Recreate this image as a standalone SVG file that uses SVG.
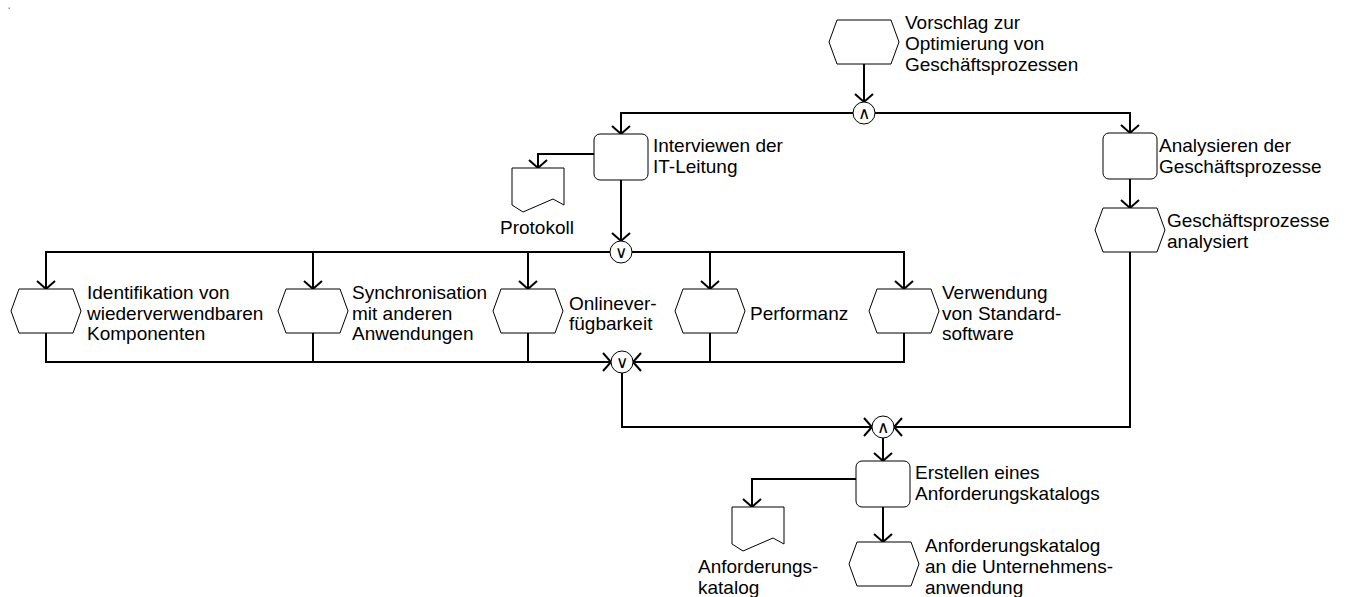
<svg xmlns="http://www.w3.org/2000/svg" width="1353" height="597" viewBox="0 0 1353 597">
<style>
.s{fill:#fff;stroke:#000;stroke-width:1}
.c{fill:none;stroke:#000;stroke-width:2}
.t{font-family:"Liberation Sans",Arial,sans-serif;font-size:19px;fill:#000}
.op{font-family:"DejaVu Sans ExtraLight","DejaVu Sans",sans-serif;font-weight:200;font-size:17px;fill:#000;text-anchor:middle}
</style>
<defs>
<marker id="a" viewBox="-10 -10 20 20" refX="0" refY="0" markerWidth="20" markerHeight="20" markerUnits="userSpaceOnUse" orient="auto">
<path d="M-8,-9 L0,0 L-8,9" fill="none" stroke="#000" stroke-width="2"/>
</marker>
</defs>
<rect x="8.5" y="7.5" width="1.5" height="1.5" fill="#999"/>
<g id="connectors">
<path class="c" d="M864,64 V102" marker-end="url(#a)"/>
<path class="c" d="M853,113 H621 V134" marker-end="url(#a)"/>
<path class="c" d="M875,113 H1130 V133" marker-end="url(#a)"/>
<path class="c" d="M1130,179 V208" marker-end="url(#a)"/>
<path class="c" d="M594,154 H538 V168" marker-end="url(#a)"/>
<path class="c" d="M621,180 V241" marker-end="url(#a)"/>
<path class="c" d="M610,252 H46 V289" marker-end="url(#a)"/>
<path class="c" d="M313,252 V289" marker-end="url(#a)"/>
<path class="c" d="M528,252 V289" marker-end="url(#a)"/>
<path class="c" d="M632,252 H904 V289" marker-end="url(#a)"/>
<path class="c" d="M710,252 V289" marker-end="url(#a)"/>
<path class="c" d="M46,333 V362 H611" marker-end="url(#a)"/>
<path class="c" d="M313,333 V362"/>
<path class="c" d="M528,333 V362"/>
<path class="c" d="M904,333 V362 H633" marker-end="url(#a)"/>
<path class="c" d="M710,333 V362"/>
<path class="c" d="M622,373 V427 H872" marker-end="url(#a)"/>
<path class="c" d="M1130,252 V427 H894" marker-end="url(#a)"/>
<path class="c" d="M883,438 V461" marker-end="url(#a)"/>
<path class="c" d="M856,479 H752 V507" marker-end="url(#a)"/>
<path class="c" d="M883,507 V542" marker-end="url(#a)"/>
</g>
<g id="op1"><circle class="s" cx="864" cy="113" r="11"/><text class="op" x="864" y="119">∧</text></g>
<g id="op2"><circle class="s" cx="621" cy="252" r="11"/><text class="op" x="621" y="258">∨</text></g>
<g id="op3"><circle class="s" cx="622" cy="362" r="11"/><text class="op" x="622" y="368">∨</text></g>
<g id="op4"><circle class="s" cx="883" cy="427" r="11"/><text class="op" x="883" y="433">∧</text></g>
<g id="ev-vorschlag">
<polygon class="s" points="829,42 837,20 891,20 899,42 891,64 837,64"/>
<text class="t" x="905" y="28.5">Vorschlag zur</text>
<text class="t" x="905" y="49.5">Optimierung von</text>
<text class="t" x="905" y="70.5">Geschäftsprozessen</text>
</g>
<g id="fn-interviewen">
<rect class="s" x="594" y="134" width="54" height="46" rx="6"/>
<text class="t" x="653" y="151.5">Interviewen der</text>
<text class="t" x="653" y="172.5">IT-Leitung</text>
</g>
<g id="fn-analysieren">
<rect class="s" x="1103" y="133" width="54" height="46" rx="6"/>
<text class="t" x="1159" y="151.5">Analysieren der</text>
<text class="t" x="1159" y="172.5">Geschäftsprozesse</text>
</g>
<g id="ev-analysiert">
<polygon class="s" points="1095,230 1103,208 1157,208 1165,230 1157,252 1103,252"/>
<text class="t" x="1167" y="226.5">Geschäftsprozesse</text>
<text class="t" x="1167" y="247.5">analysiert</text>
</g>
<g id="doc-protokoll">
<path class="s" d="M512,168 H564 V205 L553,199 L523,212 L512,205 Z"/>
<text class="t" x="500" y="233.5">Protokoll</text>
</g>
<g id="ev-identifikation">
<polygon class="s" points="11,311 19,289 73,289 81,311 73,333 19,333"/>
<text class="t" x="87" y="299">Identifikation von</text>
<text class="t" x="87" y="319.5">wiederverwendbaren</text>
<text class="t" x="87" y="340">Komponenten</text>
</g>
<g id="ev-synchronisation">
<polygon class="s" points="278,311 286,289 340,289 348,311 340,333 286,333"/>
<text class="t" x="352" y="299">Synchronisation</text>
<text class="t" x="352" y="319.5">mit anderen</text>
<text class="t" x="352" y="340">Anwendungen</text>
</g>
<g id="ev-online">
<polygon class="s" points="493,311 501,289 555,289 563,311 555,333 501,333"/>
<text class="t" x="569" y="309.5">Onlinever-</text>
<text class="t" x="569" y="330">fügbarkeit</text>
</g>
<g id="ev-performanz">
<polygon class="s" points="675,311 683,289 737,289 745,311 737,333 683,333"/>
<text class="t" x="750" y="319.5">Performanz</text>
</g>
<g id="ev-verwendung">
<polygon class="s" points="869,311 877,289 931,289 939,311 931,333 877,333"/>
<text class="t" x="942" y="299">Verwendung</text>
<text class="t" x="942" y="319.5">von Standard-</text>
<text class="t" x="942" y="340">software</text>
</g>
<g id="fn-erstellen">
<rect class="s" x="856" y="461" width="54" height="46" rx="6"/>
<text class="t" x="915" y="478.5">Erstellen eines</text>
<text class="t" x="915" y="499.5">Anforderungskatalogs</text>
</g>
<g id="doc-katalog">
<path class="s" d="M732,507 H784 V544 L773,538 L743,551 L732,544 Z"/>
<text class="t" x="698" y="572.5">Anforderungs-</text>
<text class="t" x="698" y="593.5">katalog</text>
</g>
<g id="ev-katalog">
<polygon class="s" points="849,564 857,542 911,542 919,564 911,586 857,586"/>
<text class="t" x="925" y="551.5">Anforderungskatalog</text>
<text class="t" x="925" y="572.5">an die Unternehmens-</text>
<text class="t" x="925" y="593.5">anwendung</text>
</g>
</svg>
